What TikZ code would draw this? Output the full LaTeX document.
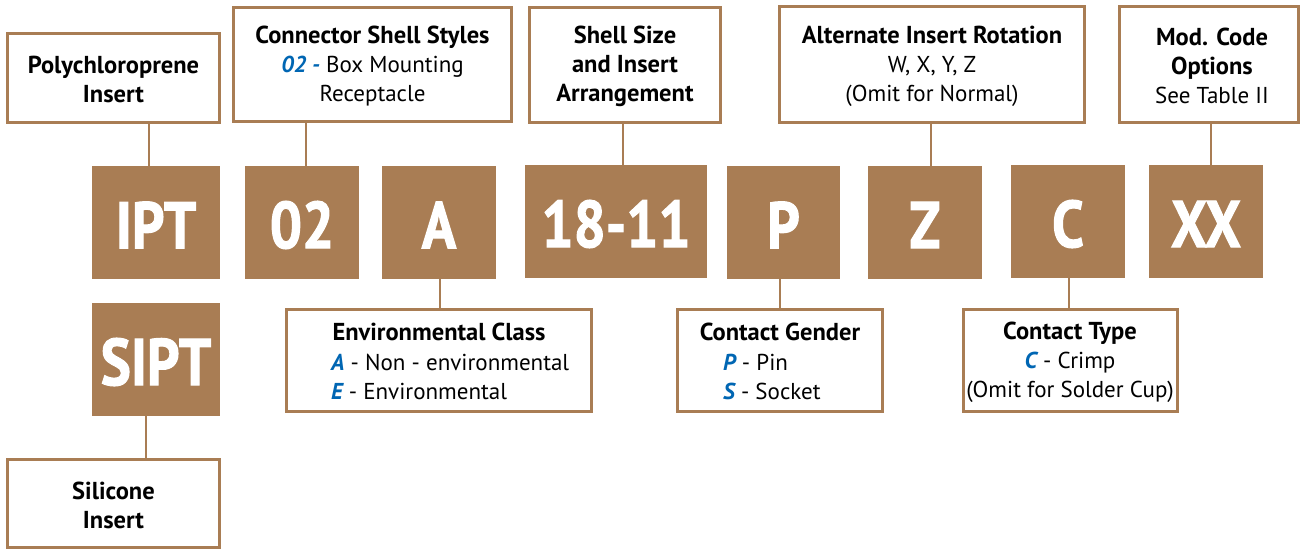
\documentclass[tikz,border=0pt]{standalone}
\usepackage{fontspec}
\setmainfont{PT Sans}
\newfontfamily\codefont{PT Sans}[UprightFont={* Bold}, BoldFont={* Bold}, FakeStretch=0.86, FakeBold=1.6]
\definecolor{tan}{RGB}{169,125,84}
\definecolor{codeblue}{RGB}{0,102,179}
\newcommand{\bl}[1]{{\color{codeblue}\bfseries\itshape #1}}
\tikzset{
  lbl/.style={draw=tan, line width=2.6pt, fill=white, inner sep=0pt},
  codebox/.style={fill=tan, inner sep=0pt, text=white, font=\codefont\fontsize{66}{66}\selectfont},
  ttl/.style={font=\fontsize{24.5}{29}\selectfont\bfseries, align=center, inner sep=0pt},
  body/.style={font=\fontsize{23}{29}\selectfont, align=center, inner sep=0pt},
  bodyl/.style={font=\fontsize{23}{29}\selectfont, align=left, inner sep=0pt, anchor=west},
  link/.style={draw=tan, line width=2.6pt},
}
\newcommand{\tb}[1]{{\fontsize{24.5}{29}\selectfont\bfseries #1}}
\begin{document}
\begin{tikzpicture}[x=1pt,y=-1pt]
\useasboundingbox[fill=white] (0,0) rectangle (1304,550);
% label boxes
\node[lbl, minimum width=212.4pt, minimum height=89.4pt] (poly) at (113.5,78) {};
\node[lbl, minimum width=278.4pt, minimum height=114.4pt] (conn) at (372.5,64.5) {};
\node[lbl, minimum width=191.4pt, minimum height=115.4pt] (shell) at (625,65) {};
\node[lbl, minimum width=305.4pt, minimum height=116.4pt] (alt) at (932,64.5) {};
\node[lbl, minimum width=179.4pt, minimum height=116.4pt] (mod) at (1209,64.5) {};
\node[lbl, minimum width=305.4pt, minimum height=102.4pt] (env) at (439,360.5) {};
\node[lbl, minimum width=205.4pt, minimum height=102.4pt] (gender) at (780,360.5) {};
\node[lbl, minimum width=214.4pt, minimum height=102.4pt] (ctype) at (1070.5,360.5) {};
\node[lbl, minimum width=212.4pt, minimum height=88.4pt] (sil) at (113.5,503.5) {};
% code boxes
\node[codebox, minimum width=128pt, minimum height=113pt] (ipt) at (156,222.5) {};
\node[codebox, minimum width=114pt, minimum height=113pt] (c02) at (302,222.5) {};
\node[codebox, minimum width=114pt, minimum height=113pt] (ca) at (439,222.5) {};
\node[codebox, minimum width=182pt, minimum height=113pt] (c1811) at (616,221.5) {};
\node[codebox, minimum width=113pt, minimum height=113pt] (cp) at (783.5,222.5) {};
\node[codebox, minimum width=114pt, minimum height=113pt] (cz) at (925,222.5) {};
\node[codebox, minimum width=114pt, minimum height=113pt] (cc) at (1068,221.5) {};
\node[codebox, minimum width=114pt, minimum height=113pt] (cxx) at (1206,221.5) {};
\node[codebox, minimum width=128pt, minimum height=113pt] (sipt) at (156,359.5) {};
\foreach \n/\t in {ipt/IPT, c02/02, ca/A, c1811/18-11, cp/P, cz/Z, cc/C, cxx/XX, sipt/SIPT}
  \node[codebox, fill=none, yshift=-2.5pt] (\n L) at (\n) {\t};
% texts
\node[ttl] (polyT) at (113.5,79) {Polychloroprene\\Insert};
\node[body] (connT) at (372.5,66) {\tb{Connector Shell Styles}\\\bl{02 -} Box Mounting\\Receptacle};
\node[ttl] (shellT) at (625,66) {Shell Size\\and Insert\\Arrangement};
\node[body] (altT) at (932,66) {\tb{Alternate Insert Rotation}\\W, X, Y, Z\\(Omit for Normal)};
\node[body] (modT) at (1212,66) {\tb{Mod. Code}\\\tb{Options}\\See Table II};
\node[ttl] (envT) at (439,332) {Environmental Class};
\node[bodyl] (envB) at (331,376.5) {\bl{A} - Non - environmental\\\bl{E} - Environmental};
\node[ttl] (genT) at (780,332) {Contact Gender};
\node[bodyl] (genB) at (723,376.5) {\bl{P} - Pin\\\bl{S} - Socket};
\node[body] (typeT) at (1070,362) {\tb{Contact Type}\\\bl{C} - Crimp\\(Omit for Solder Cup)};
\node[ttl] (silT) at (113.5,505) {Silicone\\Insert};
% connectors
\draw[link] ([xshift=-7pt]ipt.north) -- ([xshift=-7pt]ipt.north |- poly.south);
\draw[link] ([xshift=4pt]c02.north) -- ([xshift=4pt]c02.north |- conn.south);
\draw[link] ([xshift=7pt]c1811.north) -- ([xshift=7pt]c1811.north |- shell.south);
\draw[link] ([xshift=6pt]cz.north) -- ([xshift=6pt]cz.north |- alt.south);
\draw[link] ([xshift=5pt]cxx.north) -- ([xshift=5pt]cxx.north |- mod.south);
\draw[link] ([xshift=1pt]ca.south) -- ([xshift=1pt]ca.south |- env.north);
\draw[link] ([xshift=-3.5pt]cp.south) -- ([xshift=-3.5pt]cp.south |- gender.north);
\draw[link] ([xshift=1pt]cc.south) -- ([xshift=1pt]cc.south |- ctype.north);
\draw[link] ([xshift=-10pt]sipt.south) -- ([xshift=-10pt]sipt.south |- sil.north);
\end{tikzpicture}
\end{document}
